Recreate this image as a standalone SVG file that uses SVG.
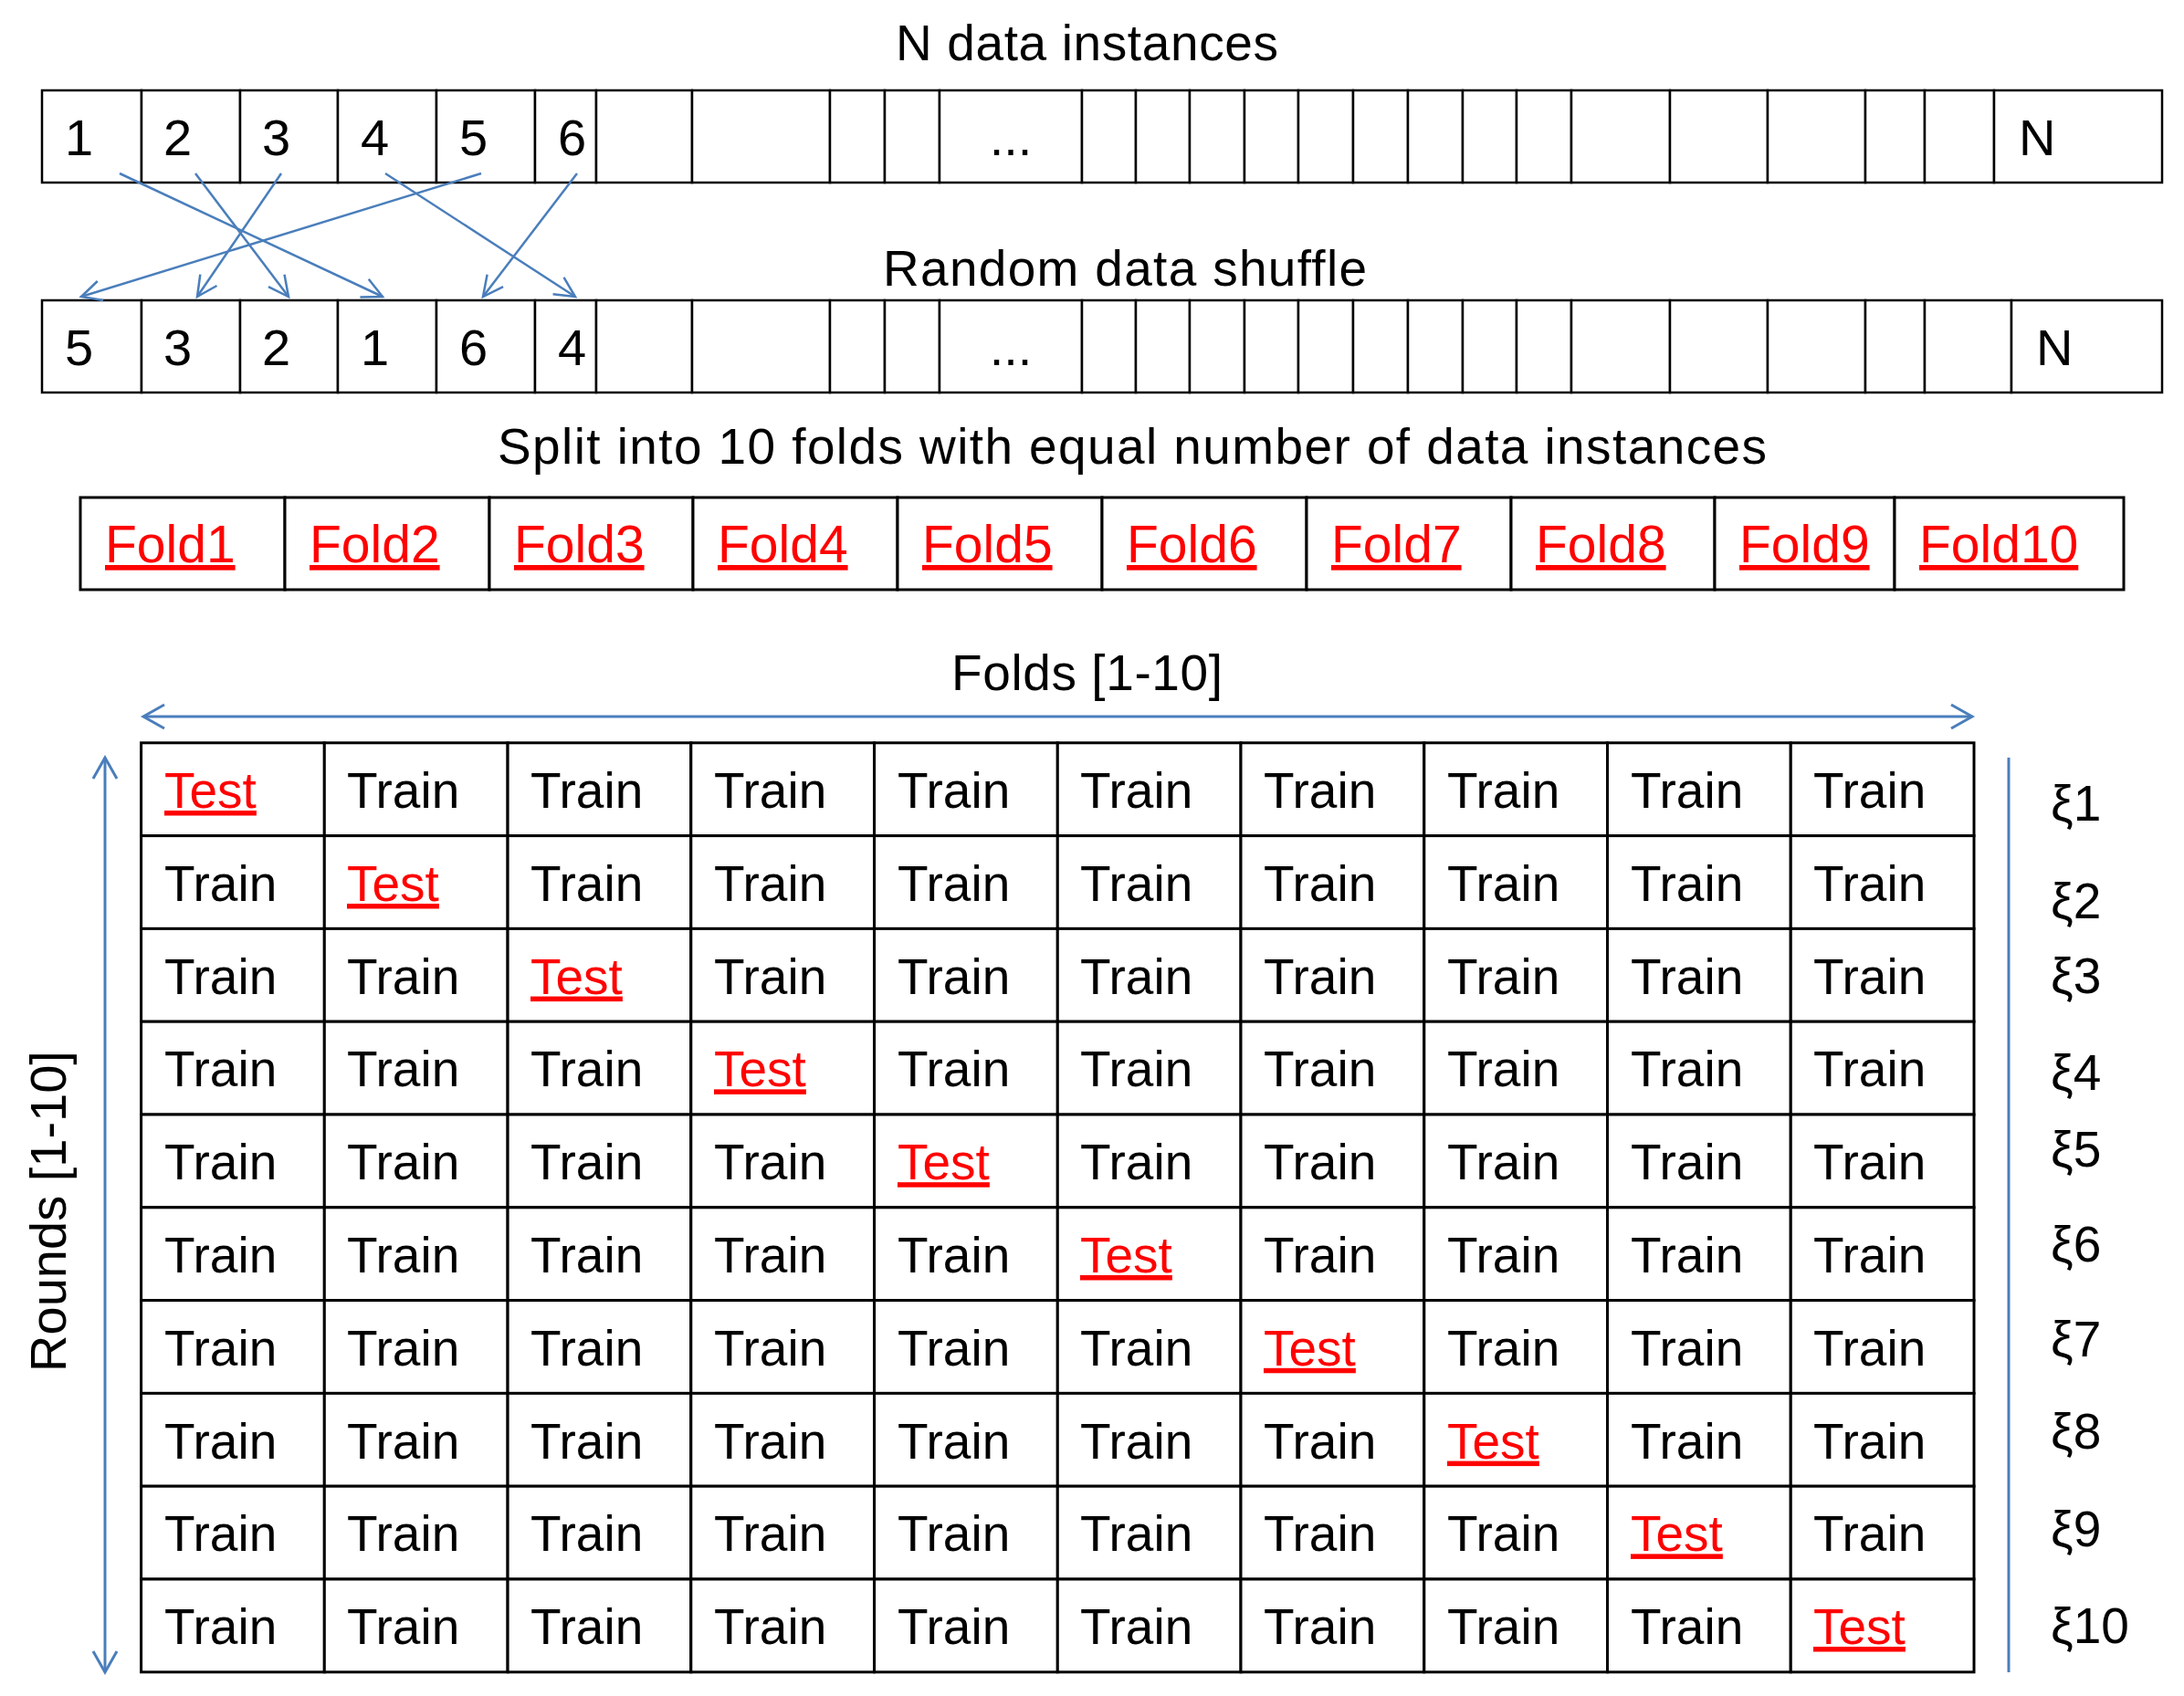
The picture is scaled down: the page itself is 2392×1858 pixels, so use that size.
<svg xmlns="http://www.w3.org/2000/svg" width="2392" height="1858" viewBox="0 0 2392 1858">
<style>
text{font-family:"Liberation Sans",Arial,sans-serif;fill:#000}
.t{font-size:55px}
.d{font-size:56px}
.h{font-size:55px}
.red{fill:#FF0000;text-decoration:underline}
.fold{font-size:57px}
.c{fill:#fff;stroke:#000;stroke-width:2.5}
.g{fill:#fff;stroke:#000;stroke-width:3}
.b{fill:none;stroke:#4A7EBB;stroke-width:3}
.s{fill:none;stroke:#4A7EBB;stroke-width:2.5}
</style>
<defs>
<marker id="ah" markerUnits="userSpaceOnUse" viewBox="-26 -15 30 30" markerWidth="30" markerHeight="30" refX="0" refY="0" orient="auto-start-reverse">
<path d="M-23,-13 L0,0 L-23,13" fill="none" stroke="#4A7EBB" stroke-width="3"/>
</marker>
<marker id="sh" markerUnits="userSpaceOnUse" viewBox="-26 -15 30 30" markerWidth="30" markerHeight="30" refX="0" refY="0" orient="auto">
<path d="M-22,-11 L0,0 L-22,11" fill="none" stroke="#4A7EBB" stroke-width="2.5"/>
</marker>
</defs>
<rect width="2392" height="1858" fill="#fff"/>

<g id="titles">
<text class="h" x="981" y="66" textLength="419" lengthAdjust="spacing">N data instances</text>
<text class="h" x="967" y="313" textLength="530" lengthAdjust="spacing">Random data shuffle</text>
<text class="h" x="545" y="508" textLength="1390" lengthAdjust="spacing">Split into 10 folds with equal number of data instances</text>
<text class="h" x="1042" y="756" textLength="297" lengthAdjust="spacing">Folds [1-10]</text>
<text class="d" transform="translate(72,1327) rotate(-90)" text-anchor="middle">Rounds [1-10]</text>
</g>

<g id="original-row">
<g id="o1"><rect class="c" x="46" y="99" width="109" height="101"/><text class="d" x="71" y="170">1</text></g>
<g id="o2"><rect class="c" x="155" y="99" width="108" height="101"/><text class="d" x="179" y="170">2</text></g>
<g id="o3"><rect class="c" x="263" y="99" width="107" height="101"/><text class="d" x="287" y="170">3</text></g>
<g id="o4"><rect class="c" x="370" y="99" width="108" height="101"/><text class="d" x="395" y="170">4</text></g>
<g id="o5"><rect class="c" x="478" y="99" width="108" height="101"/><text class="d" x="503" y="170">5</text></g>
<g id="o6"><rect class="c" x="586" y="99" width="67" height="101"/><text class="d" x="611" y="170">6</text></g>
<g id="o7"><rect class="c" x="653" y="99" width="105" height="101"/></g>
<g id="o8"><rect class="c" x="758" y="99" width="151" height="101"/></g>
<g id="o9"><rect class="c" x="909" y="99" width="60" height="101"/></g>
<g id="o10"><rect class="c" x="969" y="99" width="60" height="101"/></g>
<g id="o11"><rect class="c" x="1029" y="99" width="156" height="101"/><text class="d" x="1107" y="170" text-anchor="middle">...</text></g>
<g id="o12"><rect class="c" x="1185" y="99" width="59" height="101"/></g>
<g id="o13"><rect class="c" x="1244" y="99" width="59" height="101"/></g>
<g id="o14"><rect class="c" x="1303" y="99" width="60" height="101"/></g>
<g id="o15"><rect class="c" x="1363" y="99" width="59" height="101"/></g>
<g id="o16"><rect class="c" x="1422" y="99" width="60" height="101"/></g>
<g id="o17"><rect class="c" x="1482" y="99" width="60" height="101"/></g>
<g id="o18"><rect class="c" x="1542" y="99" width="60" height="101"/></g>
<g id="o19"><rect class="c" x="1602" y="99" width="59" height="101"/></g>
<g id="o20"><rect class="c" x="1661" y="99" width="60" height="101"/></g>
<g id="o21"><rect class="c" x="1721" y="99" width="108" height="101"/></g>
<g id="o22"><rect class="c" x="1829" y="99" width="107" height="101"/></g>
<g id="o23"><rect class="c" x="1936" y="99" width="107" height="101"/></g>
<g id="o24"><rect class="c" x="2043" y="99" width="65" height="101"/></g>
<g id="o25"><rect class="c" x="2108" y="99" width="76" height="101"/></g>
<g id="o26"><rect class="c" x="2184" y="99" width="184" height="101"/><text class="d" x="2211" y="170">N</text></g>
</g>

<g id="shuffled-row">
<g id="s1"><rect class="c" x="46" y="329" width="109" height="101"/><text class="d" x="71" y="400">5</text></g>
<g id="s2"><rect class="c" x="155" y="329" width="108" height="101"/><text class="d" x="179" y="400">3</text></g>
<g id="s3"><rect class="c" x="263" y="329" width="107" height="101"/><text class="d" x="287" y="400">2</text></g>
<g id="s4"><rect class="c" x="370" y="329" width="108" height="101"/><text class="d" x="395" y="400">1</text></g>
<g id="s5"><rect class="c" x="478" y="329" width="108" height="101"/><text class="d" x="503" y="400">6</text></g>
<g id="s6"><rect class="c" x="586" y="329" width="67" height="101"/><text class="d" x="611" y="400">4</text></g>
<g id="s7"><rect class="c" x="653" y="329" width="105" height="101"/></g>
<g id="s8"><rect class="c" x="758" y="329" width="151" height="101"/></g>
<g id="s9"><rect class="c" x="909" y="329" width="60" height="101"/></g>
<g id="s10"><rect class="c" x="969" y="329" width="60" height="101"/></g>
<g id="s11"><rect class="c" x="1029" y="329" width="156" height="101"/><text class="d" x="1107" y="400" text-anchor="middle">...</text></g>
<g id="s12"><rect class="c" x="1185" y="329" width="59" height="101"/></g>
<g id="s13"><rect class="c" x="1244" y="329" width="59" height="101"/></g>
<g id="s14"><rect class="c" x="1303" y="329" width="60" height="101"/></g>
<g id="s15"><rect class="c" x="1363" y="329" width="59" height="101"/></g>
<g id="s16"><rect class="c" x="1422" y="329" width="60" height="101"/></g>
<g id="s17"><rect class="c" x="1482" y="329" width="60" height="101"/></g>
<g id="s18"><rect class="c" x="1542" y="329" width="60" height="101"/></g>
<g id="s19"><rect class="c" x="1602" y="329" width="59" height="101"/></g>
<g id="s20"><rect class="c" x="1661" y="329" width="60" height="101"/></g>
<g id="s21"><rect class="c" x="1721" y="329" width="108" height="101"/></g>
<g id="s22"><rect class="c" x="1829" y="329" width="107" height="101"/></g>
<g id="s23"><rect class="c" x="1936" y="329" width="107" height="101"/></g>
<g id="s24"><rect class="c" x="2043" y="329" width="65" height="101"/></g>
<g id="s25"><rect class="c" x="2108" y="329" width="95" height="101"/></g>
<g id="s26"><rect class="c" x="2203" y="329" width="165" height="101"/><text class="d" x="2230" y="400">N</text></g>
</g>

<g id="folds">
<g id="fold1"><rect class="g" x="88" y="545" width="224" height="101"/><text class="fold red" x="115" y="616">Fold1</text></g>
<g id="fold2"><rect class="g" x="312" y="545" width="224" height="101"/><text class="fold red" x="339" y="616">Fold2</text></g>
<g id="fold3"><rect class="g" x="536" y="545" width="223" height="101"/><text class="fold red" x="563" y="616">Fold3</text></g>
<g id="fold4"><rect class="g" x="759" y="545" width="224" height="101"/><text class="fold red" x="786" y="616">Fold4</text></g>
<g id="fold5"><rect class="g" x="983" y="545" width="224" height="101"/><text class="fold red" x="1010" y="616">Fold5</text></g>
<g id="fold6"><rect class="g" x="1207" y="545" width="224" height="101"/><text class="fold red" x="1234" y="616">Fold6</text></g>
<g id="fold7"><rect class="g" x="1431" y="545" width="224" height="101"/><text class="fold red" x="1458" y="616">Fold7</text></g>
<g id="fold8"><rect class="g" x="1655" y="545" width="223" height="101"/><text class="fold red" x="1682" y="616">Fold8</text></g>
<g id="fold9"><rect class="g" x="1878" y="545" width="197" height="101"/><text class="fold red" x="1905" y="616">Fold9</text></g>
<g id="fold10"><rect class="g" x="2075" y="545" width="251" height="101"/><text class="fold red" x="2102" y="616">Fold10</text></g>
</g>

<g id="grid">
<g id="r1">
<g id="r1c1"><rect class="g" x="154.6" y="813.8" width="200.7" height="101.8"/><text class="t red" x="180" y="885">Test</text></g>
<g id="r1c2"><rect class="g" x="355.3" y="813.8" width="200.7" height="101.8"/><text class="t" x="380" y="885">Train</text></g>
<g id="r1c3"><rect class="g" x="556.1" y="813.8" width="200.7" height="101.8"/><text class="t" x="581" y="885">Train</text></g>
<g id="r1c4"><rect class="g" x="756.8" y="813.8" width="200.7" height="101.8"/><text class="t" x="782" y="885">Train</text></g>
<g id="r1c5"><rect class="g" x="957.6" y="813.8" width="200.7" height="101.8"/><text class="t" x="983" y="885">Train</text></g>
<g id="r1c6"><rect class="g" x="1158.3" y="813.8" width="200.7" height="101.8"/><text class="t" x="1183" y="885">Train</text></g>
<g id="r1c7"><rect class="g" x="1359" y="813.8" width="200.7" height="101.8"/><text class="t" x="1384" y="885">Train</text></g>
<g id="r1c8"><rect class="g" x="1559.8" y="813.8" width="200.7" height="101.8"/><text class="t" x="1585" y="885">Train</text></g>
<g id="r1c9"><rect class="g" x="1760.5" y="813.8" width="200.7" height="101.8"/><text class="t" x="1786" y="885">Train</text></g>
<g id="r1c10"><rect class="g" x="1961.3" y="813.8" width="200.7" height="101.8"/><text class="t" x="1986" y="885">Train</text></g>
</g>
<g id="r2">
<g id="r2c1"><rect class="g" x="154.6" y="915.6" width="200.7" height="101.8"/><text class="t" x="180" y="987">Train</text></g>
<g id="r2c2"><rect class="g" x="355.3" y="915.6" width="200.7" height="101.8"/><text class="t red" x="380" y="987">Test</text></g>
<g id="r2c3"><rect class="g" x="556.1" y="915.6" width="200.7" height="101.8"/><text class="t" x="581" y="987">Train</text></g>
<g id="r2c4"><rect class="g" x="756.8" y="915.6" width="200.7" height="101.8"/><text class="t" x="782" y="987">Train</text></g>
<g id="r2c5"><rect class="g" x="957.6" y="915.6" width="200.7" height="101.8"/><text class="t" x="983" y="987">Train</text></g>
<g id="r2c6"><rect class="g" x="1158.3" y="915.6" width="200.7" height="101.8"/><text class="t" x="1183" y="987">Train</text></g>
<g id="r2c7"><rect class="g" x="1359" y="915.6" width="200.7" height="101.8"/><text class="t" x="1384" y="987">Train</text></g>
<g id="r2c8"><rect class="g" x="1559.8" y="915.6" width="200.7" height="101.8"/><text class="t" x="1585" y="987">Train</text></g>
<g id="r2c9"><rect class="g" x="1760.5" y="915.6" width="200.7" height="101.8"/><text class="t" x="1786" y="987">Train</text></g>
<g id="r2c10"><rect class="g" x="1961.3" y="915.6" width="200.7" height="101.8"/><text class="t" x="1986" y="987">Train</text></g>
</g>
<g id="r3">
<g id="r3c1"><rect class="g" x="154.6" y="1017.4" width="200.7" height="101.8"/><text class="t" x="180" y="1088.6">Train</text></g>
<g id="r3c2"><rect class="g" x="355.3" y="1017.4" width="200.7" height="101.8"/><text class="t" x="380" y="1088.6">Train</text></g>
<g id="r3c3"><rect class="g" x="556.1" y="1017.4" width="200.7" height="101.8"/><text class="t red" x="581" y="1088.6">Test</text></g>
<g id="r3c4"><rect class="g" x="756.8" y="1017.4" width="200.7" height="101.8"/><text class="t" x="782" y="1088.6">Train</text></g>
<g id="r3c5"><rect class="g" x="957.6" y="1017.4" width="200.7" height="101.8"/><text class="t" x="983" y="1088.6">Train</text></g>
<g id="r3c6"><rect class="g" x="1158.3" y="1017.4" width="200.7" height="101.8"/><text class="t" x="1183" y="1088.6">Train</text></g>
<g id="r3c7"><rect class="g" x="1359" y="1017.4" width="200.7" height="101.8"/><text class="t" x="1384" y="1088.6">Train</text></g>
<g id="r3c8"><rect class="g" x="1559.8" y="1017.4" width="200.7" height="101.8"/><text class="t" x="1585" y="1088.6">Train</text></g>
<g id="r3c9"><rect class="g" x="1760.5" y="1017.4" width="200.7" height="101.8"/><text class="t" x="1786" y="1088.6">Train</text></g>
<g id="r3c10"><rect class="g" x="1961.3" y="1017.4" width="200.7" height="101.8"/><text class="t" x="1986" y="1088.6">Train</text></g>
</g>
<g id="r4">
<g id="r4c1"><rect class="g" x="154.6" y="1119.2" width="200.7" height="101.8"/><text class="t" x="180" y="1190.4">Train</text></g>
<g id="r4c2"><rect class="g" x="355.3" y="1119.2" width="200.7" height="101.8"/><text class="t" x="380" y="1190.4">Train</text></g>
<g id="r4c3"><rect class="g" x="556.1" y="1119.2" width="200.7" height="101.8"/><text class="t" x="581" y="1190.4">Train</text></g>
<g id="r4c4"><rect class="g" x="756.8" y="1119.2" width="200.7" height="101.8"/><text class="t red" x="782" y="1190.4">Test</text></g>
<g id="r4c5"><rect class="g" x="957.6" y="1119.2" width="200.7" height="101.8"/><text class="t" x="983" y="1190.4">Train</text></g>
<g id="r4c6"><rect class="g" x="1158.3" y="1119.2" width="200.7" height="101.8"/><text class="t" x="1183" y="1190.4">Train</text></g>
<g id="r4c7"><rect class="g" x="1359" y="1119.2" width="200.7" height="101.8"/><text class="t" x="1384" y="1190.4">Train</text></g>
<g id="r4c8"><rect class="g" x="1559.8" y="1119.2" width="200.7" height="101.8"/><text class="t" x="1585" y="1190.4">Train</text></g>
<g id="r4c9"><rect class="g" x="1760.5" y="1119.2" width="200.7" height="101.8"/><text class="t" x="1786" y="1190.4">Train</text></g>
<g id="r4c10"><rect class="g" x="1961.3" y="1119.2" width="200.7" height="101.8"/><text class="t" x="1986" y="1190.4">Train</text></g>
</g>
<g id="r5">
<g id="r5c1"><rect class="g" x="154.6" y="1221" width="200.7" height="101.8"/><text class="t" x="180" y="1292.2">Train</text></g>
<g id="r5c2"><rect class="g" x="355.3" y="1221" width="200.7" height="101.8"/><text class="t" x="380" y="1292.2">Train</text></g>
<g id="r5c3"><rect class="g" x="556.1" y="1221" width="200.7" height="101.8"/><text class="t" x="581" y="1292.2">Train</text></g>
<g id="r5c4"><rect class="g" x="756.8" y="1221" width="200.7" height="101.8"/><text class="t" x="782" y="1292.2">Train</text></g>
<g id="r5c5"><rect class="g" x="957.6" y="1221" width="200.7" height="101.8"/><text class="t red" x="983" y="1292.2">Test</text></g>
<g id="r5c6"><rect class="g" x="1158.3" y="1221" width="200.7" height="101.8"/><text class="t" x="1183" y="1292.2">Train</text></g>
<g id="r5c7"><rect class="g" x="1359" y="1221" width="200.7" height="101.8"/><text class="t" x="1384" y="1292.2">Train</text></g>
<g id="r5c8"><rect class="g" x="1559.8" y="1221" width="200.7" height="101.8"/><text class="t" x="1585" y="1292.2">Train</text></g>
<g id="r5c9"><rect class="g" x="1760.5" y="1221" width="200.7" height="101.8"/><text class="t" x="1786" y="1292.2">Train</text></g>
<g id="r5c10"><rect class="g" x="1961.3" y="1221" width="200.7" height="101.8"/><text class="t" x="1986" y="1292.2">Train</text></g>
</g>
<g id="r6">
<g id="r6c1"><rect class="g" x="154.6" y="1322.8" width="200.7" height="101.8"/><text class="t" x="180" y="1394">Train</text></g>
<g id="r6c2"><rect class="g" x="355.3" y="1322.8" width="200.7" height="101.8"/><text class="t" x="380" y="1394">Train</text></g>
<g id="r6c3"><rect class="g" x="556.1" y="1322.8" width="200.7" height="101.8"/><text class="t" x="581" y="1394">Train</text></g>
<g id="r6c4"><rect class="g" x="756.8" y="1322.8" width="200.7" height="101.8"/><text class="t" x="782" y="1394">Train</text></g>
<g id="r6c5"><rect class="g" x="957.6" y="1322.8" width="200.7" height="101.8"/><text class="t" x="983" y="1394">Train</text></g>
<g id="r6c6"><rect class="g" x="1158.3" y="1322.8" width="200.7" height="101.8"/><text class="t red" x="1183" y="1394">Test</text></g>
<g id="r6c7"><rect class="g" x="1359" y="1322.8" width="200.7" height="101.8"/><text class="t" x="1384" y="1394">Train</text></g>
<g id="r6c8"><rect class="g" x="1559.8" y="1322.8" width="200.7" height="101.8"/><text class="t" x="1585" y="1394">Train</text></g>
<g id="r6c9"><rect class="g" x="1760.5" y="1322.8" width="200.7" height="101.8"/><text class="t" x="1786" y="1394">Train</text></g>
<g id="r6c10"><rect class="g" x="1961.3" y="1322.8" width="200.7" height="101.8"/><text class="t" x="1986" y="1394">Train</text></g>
</g>
<g id="r7">
<g id="r7c1"><rect class="g" x="154.6" y="1424.6" width="200.7" height="101.8"/><text class="t" x="180" y="1495.8">Train</text></g>
<g id="r7c2"><rect class="g" x="355.3" y="1424.6" width="200.7" height="101.8"/><text class="t" x="380" y="1495.8">Train</text></g>
<g id="r7c3"><rect class="g" x="556.1" y="1424.6" width="200.7" height="101.8"/><text class="t" x="581" y="1495.8">Train</text></g>
<g id="r7c4"><rect class="g" x="756.8" y="1424.6" width="200.7" height="101.8"/><text class="t" x="782" y="1495.8">Train</text></g>
<g id="r7c5"><rect class="g" x="957.6" y="1424.6" width="200.7" height="101.8"/><text class="t" x="983" y="1495.8">Train</text></g>
<g id="r7c6"><rect class="g" x="1158.3" y="1424.6" width="200.7" height="101.8"/><text class="t" x="1183" y="1495.8">Train</text></g>
<g id="r7c7"><rect class="g" x="1359" y="1424.6" width="200.7" height="101.8"/><text class="t red" x="1384" y="1495.8">Test</text></g>
<g id="r7c8"><rect class="g" x="1559.8" y="1424.6" width="200.7" height="101.8"/><text class="t" x="1585" y="1495.8">Train</text></g>
<g id="r7c9"><rect class="g" x="1760.5" y="1424.6" width="200.7" height="101.8"/><text class="t" x="1786" y="1495.8">Train</text></g>
<g id="r7c10"><rect class="g" x="1961.3" y="1424.6" width="200.7" height="101.8"/><text class="t" x="1986" y="1495.8">Train</text></g>
</g>
<g id="r8">
<g id="r8c1"><rect class="g" x="154.6" y="1526.4" width="200.7" height="101.8"/><text class="t" x="180" y="1597.6">Train</text></g>
<g id="r8c2"><rect class="g" x="355.3" y="1526.4" width="200.7" height="101.8"/><text class="t" x="380" y="1597.6">Train</text></g>
<g id="r8c3"><rect class="g" x="556.1" y="1526.4" width="200.7" height="101.8"/><text class="t" x="581" y="1597.6">Train</text></g>
<g id="r8c4"><rect class="g" x="756.8" y="1526.4" width="200.7" height="101.8"/><text class="t" x="782" y="1597.6">Train</text></g>
<g id="r8c5"><rect class="g" x="957.6" y="1526.4" width="200.7" height="101.8"/><text class="t" x="983" y="1597.6">Train</text></g>
<g id="r8c6"><rect class="g" x="1158.3" y="1526.4" width="200.7" height="101.8"/><text class="t" x="1183" y="1597.6">Train</text></g>
<g id="r8c7"><rect class="g" x="1359" y="1526.4" width="200.7" height="101.8"/><text class="t" x="1384" y="1597.6">Train</text></g>
<g id="r8c8"><rect class="g" x="1559.8" y="1526.4" width="200.7" height="101.8"/><text class="t red" x="1585" y="1597.6">Test</text></g>
<g id="r8c9"><rect class="g" x="1760.5" y="1526.4" width="200.7" height="101.8"/><text class="t" x="1786" y="1597.6">Train</text></g>
<g id="r8c10"><rect class="g" x="1961.3" y="1526.4" width="200.7" height="101.8"/><text class="t" x="1986" y="1597.6">Train</text></g>
</g>
<g id="r9">
<g id="r9c1"><rect class="g" x="154.6" y="1628.2" width="200.7" height="101.8"/><text class="t" x="180" y="1699.4">Train</text></g>
<g id="r9c2"><rect class="g" x="355.3" y="1628.2" width="200.7" height="101.8"/><text class="t" x="380" y="1699.4">Train</text></g>
<g id="r9c3"><rect class="g" x="556.1" y="1628.2" width="200.7" height="101.8"/><text class="t" x="581" y="1699.4">Train</text></g>
<g id="r9c4"><rect class="g" x="756.8" y="1628.2" width="200.7" height="101.8"/><text class="t" x="782" y="1699.4">Train</text></g>
<g id="r9c5"><rect class="g" x="957.6" y="1628.2" width="200.7" height="101.8"/><text class="t" x="983" y="1699.4">Train</text></g>
<g id="r9c6"><rect class="g" x="1158.3" y="1628.2" width="200.7" height="101.8"/><text class="t" x="1183" y="1699.4">Train</text></g>
<g id="r9c7"><rect class="g" x="1359" y="1628.2" width="200.7" height="101.8"/><text class="t" x="1384" y="1699.4">Train</text></g>
<g id="r9c8"><rect class="g" x="1559.8" y="1628.2" width="200.7" height="101.8"/><text class="t" x="1585" y="1699.4">Train</text></g>
<g id="r9c9"><rect class="g" x="1760.5" y="1628.2" width="200.7" height="101.8"/><text class="t red" x="1786" y="1699.4">Test</text></g>
<g id="r9c10"><rect class="g" x="1961.3" y="1628.2" width="200.7" height="101.8"/><text class="t" x="1986" y="1699.4">Train</text></g>
</g>
<g id="r10">
<g id="r10c1"><rect class="g" x="154.6" y="1730" width="200.7" height="101.8"/><text class="t" x="180" y="1801">Train</text></g>
<g id="r10c2"><rect class="g" x="355.3" y="1730" width="200.7" height="101.8"/><text class="t" x="380" y="1801">Train</text></g>
<g id="r10c3"><rect class="g" x="556.1" y="1730" width="200.7" height="101.8"/><text class="t" x="581" y="1801">Train</text></g>
<g id="r10c4"><rect class="g" x="756.8" y="1730" width="200.7" height="101.8"/><text class="t" x="782" y="1801">Train</text></g>
<g id="r10c5"><rect class="g" x="957.6" y="1730" width="200.7" height="101.8"/><text class="t" x="983" y="1801">Train</text></g>
<g id="r10c6"><rect class="g" x="1158.3" y="1730" width="200.7" height="101.8"/><text class="t" x="1183" y="1801">Train</text></g>
<g id="r10c7"><rect class="g" x="1359" y="1730" width="200.7" height="101.8"/><text class="t" x="1384" y="1801">Train</text></g>
<g id="r10c8"><rect class="g" x="1559.8" y="1730" width="200.7" height="101.8"/><text class="t" x="1585" y="1801">Train</text></g>
<g id="r10c9"><rect class="g" x="1760.5" y="1730" width="200.7" height="101.8"/><text class="t" x="1786" y="1801">Train</text></g>
<g id="r10c10"><rect class="g" x="1961.3" y="1730" width="200.7" height="101.8"/><text class="t red" x="1986" y="1801">Test</text></g>
</g>
</g>

<g id="xi-labels">
<text class="t" x="2246" y="899">ξ1</text>
<text class="t" x="2246" y="1006">ξ2</text>
<text class="t" x="2246" y="1088">ξ3</text>
<text class="t" x="2246" y="1194">ξ4</text>
<text class="t" x="2246" y="1278">ξ5</text>
<text class="t" x="2246" y="1382">ξ6</text>
<text class="t" x="2246" y="1486">ξ7</text>
<text class="t" x="2246" y="1587">ξ8</text>
<text class="t" x="2246" y="1694">ξ9</text>
<text class="t" x="2246" y="1800">ξ10</text>
</g>

<g id="connectors">
<line class="s" x1="131" y1="190" x2="419" y2="325" marker-end="url(#sh)"/>
<line class="s" x1="214" y1="190" x2="316" y2="325" marker-end="url(#sh)"/>
<line class="s" x1="308" y1="190" x2="216" y2="325" marker-end="url(#sh)"/>
<line class="s" x1="422" y1="190" x2="630" y2="325" marker-end="url(#sh)"/>
<line class="s" x1="527" y1="190" x2="89" y2="325" marker-end="url(#sh)"/>
<line class="s" x1="632" y1="190" x2="529" y2="325" marker-end="url(#sh)"/>
<line class="b" x1="157" y1="785" x2="2160" y2="785" marker-start="url(#ah)" marker-end="url(#ah)"/>
<line class="b" x1="115" y1="830" x2="115" y2="1832" marker-start="url(#ah)" marker-end="url(#ah)"/>
<line class="b" x1="2200" y1="830" x2="2200" y2="1832"/>
</g>
</svg>
